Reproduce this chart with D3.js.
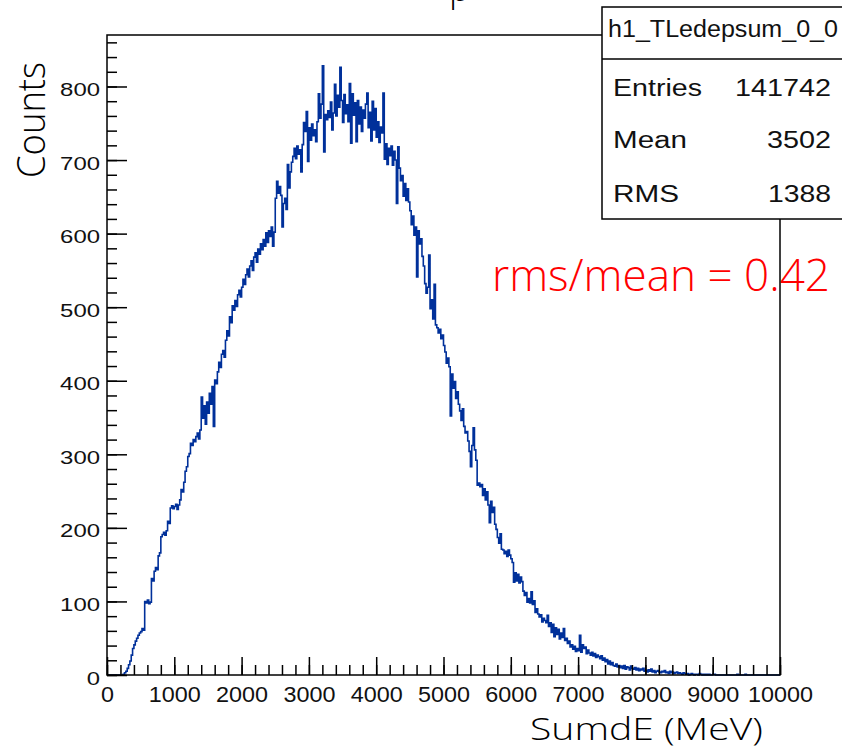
<!DOCTYPE html>
<html>
<head>
<meta charset="utf-8">
<script src="https://cdn.jsdelivr.net/npm/d3@7"></script>
<style>
html,body{margin:0;padding:0;background:#fff;}
svg{display:block;}
</style>
</head>
<body>
<svg id="chart" width="842" height="750"></svg>
<script>
// ---------------- data ----------------
const histName = "h1_TLedepsum_0_0";
const titleFragment = "p";
const xRange = [0, 10000];
const yMax = 870;
const xTitle = "SumdE (MeV)";
const yTitle = "Counts";
const noteText = "rms/mean = 0.42";
const statLabels = ["Entries", "Mean", "RMS"];
const statValues = ["141742", "3502", "1388"];
const xTicks = [0, 1000, 2000, 3000, 4000, 5000, 6000, 7000, 8000, 9000, 10000];
const yTicks = [0, 100, 200, 300, 400, 500, 600, 700, 800];
// 500 bins of 20 MeV
const counts = [
  0,0,0,0,0,0,0,0,0,0,0,0,1,3,5,9,14,19,27,36,41,46,50,54,57,
  59,63,61,100,98,102,97,99,131,128,141,146,143,162,166,188,191,194,190,196,209,206,227,230,226,
  229,232,225,231,238,252,249,262,277,283,297,301,315,312,320,317,324,329,321,333,378,349,366,341,371,
  356,383,368,392,338,401,396,412,425,418,436,441,432,455,468,461,487,479,502,496,509,501,517,523,514,
  527,538,531,544,552,541,556,563,550,568,574,561,579,572,586,578,592,583,601,588,604,596,609,583,602,
  648,671,655,664,652,609,641,648,633,694,662,684,697,705,716,702,719,708,714,684,721,751,739,766,698,
  744,727,749,733,741,725,752,790,757,776,828,711,762,755,767,758,779,741,764,803,760,788,772,826,781,
  751,789,763,775,752,804,723,790,761,778,725,781,749,772,739,768,757,776,791,744,765,726,780,741,770,
  731,752,724,745,737,791,701,722,694,716,706,719,693,712,700,641,718,689,672,679,651,668,645,661,643,
  631,612,624,598,609,541,604,586,593,569,556,532,519,527,571,498,510,484,531,476,472,465,470,457,462,
  448,439,424,431,419,352,409,390,399,376,385,368,359,346,362,338,329,331,318,304,283,312,336,306,292,
  258,261,256,259,244,253,238,249,231,207,236,221,228,205,198,187,179,192,171,170,165,168,161,170,163,
  158,153,126,139,128,137,125,133,127,114,108,112,99,104,98,113,96,101,85,90,83,79,82,72,77,
  74,71,81,66,71,58,69,52,64,55,62,49,57,51,63,47,50,43,46,38,41,35,39,32,36,
  33,54,31,41,36,38,29,34,30,27,31,26,29,24,27,25,22,26,20,23,18,21,15,19,14,
  17,13,12,15,11,13,10,12,9,13,8,11,10,7,12,9,8,10,7,9,6,8,7,9,5,
  6,4,7,5,8,4,6,3,5,6,4,3,5,4,6,3,4,2,5,3,4,2,3,4,2,
  3,2,1,3,2,1,2,0,1,2,1,0,1,1,0,2,1,0,1,0,1,0,1,0,0,
  1,1,0,0,0,0,0,0,0,0,0,0,0,0,0,0,0,0,1,0,0,0,0,0,1,
  0,0,0,0,0,0,0,0,0,0,0,0,0,0,0,0,0,0,0,0,0,0,0,0,0
];

// ---------------- drawing ----------------
const svg = d3.select("#chart");
const ROOTFONT = "'Liberation Sans', Arial, Helvetica, sans-serif";
const LABFONT = "'Open Sans', 'Noto Sans', sans-serif";
const frame = {left: 107, right: 780, top: 35, bottom: 675};

const x = d3.scaleLinear().domain(xRange).range([frame.left, frame.right]);
const y = d3.scaleLinear().domain([0, yMax]).range([frame.bottom, frame.top]);

// partially visible title
svg.append("text").attr("x", 449).attr("y", 1)
  .attr("font-family", LABFONT).attr("font-weight", 300).attr("font-size", 36).attr("fill", "#000")
  .text(titleFragment);

function styleAxis(g) {
  g.select(".domain").remove();
  g.selectAll(".tick line").attr("stroke", "#000").attr("stroke-width", 1.5);
}

// histogram
const bw = (xRange[1] - xRange[0]) / counts.length;
const pts = counts.flatMap((c, i) => [[xRange[0] + i * bw, c], [xRange[0] + (i + 1) * bw, c]]);
const line = d3.line().x(d => x(d[0])).y(d => y(d[1]));
svg.append("path").datum(pts).attr("d", line)
  .attr("fill", "none").attr("stroke", "#00309a").attr("stroke-width", 1.6)
  .attr("stroke-linejoin", "miter");

// frame
svg.append("rect")
  .attr("x", frame.left).attr("y", frame.top)
  .attr("width", frame.right - frame.left).attr("height", frame.bottom - frame.top)
  .attr("fill", "none").attr("stroke", "#000").attr("stroke-width", 1.5);

// y minor ticks
svg.append("g").attr("transform", `translate(${frame.left},0)`)
  .call(d3.axisLeft(y).tickValues(d3.range(0, yMax, 20)).tickSize(-10).tickFormat(""))
  .call(styleAxis);
// y major ticks
const yAx = svg.append("g").attr("transform", `translate(${frame.left},0)`)
  .call(d3.axisLeft(y).tickValues(yTicks).tickSize(-20).tickPadding(7).tickFormat(d3.format("d")))
  .call(styleAxis);
yAx.selectAll(".tick text")
  .attr("dy", null).attr("y", 9)
  .attr("font-family", ROOTFONT).attr("font-size", 19).attr("fill", "#111")
  .each(function(d) {
    const s = String(d);
    d3.select(this).attr("textLength", s.length * 13.3).attr("lengthAdjust", "spacingAndGlyphs");
  });

// x minor ticks
svg.append("g").attr("transform", `translate(0,${frame.bottom})`)
  .call(d3.axisBottom(x).tickValues(d3.range(xRange[0], xRange[1] + 1, 200)).tickSize(-10).tickFormat(""))
  .call(styleAxis);
// x major ticks
const xAx = svg.append("g").attr("transform", `translate(0,${frame.bottom})`)
  .call(d3.axisBottom(x).tickValues(xTicks).tickSize(-18).tickFormat(d3.format("d")))
  .call(styleAxis);
xAx.selectAll(".tick text")
  .attr("dy", null).attr("y", 27)
  .attr("font-family", ROOTFONT).attr("font-size", 22).attr("fill", "#111")
  .each(function(d) {
    const s = String(d);
    d3.select(this).attr("textLength", s.length * 13).attr("lengthAdjust", "spacingAndGlyphs");
  });

// axis titles
svg.append("text").attr("x", 763).attr("y", 740)
  .attr("text-anchor", "end").attr("font-family", LABFONT).attr("font-weight", 300).attr("font-size", 31)
  .attr("fill", "#000").attr("textLength", 233).attr("lengthAdjust", "spacingAndGlyphs")
  .text(xTitle);
svg.append("text").attr("transform", "translate(45,62) rotate(-90)")
  .attr("text-anchor", "end").attr("font-family", LABFONT).attr("font-weight", 300).attr("font-size", 38)
  .attr("fill", "#000").attr("textLength", 116).attr("lengthAdjust", "spacingAndGlyphs")
  .text(yTitle);

// note
svg.append("text").attr("x", 492).attr("y", 291)
  .attr("font-family", LABFONT).attr("font-weight", 300).attr("font-size", 45).attr("fill", "#ff0000")
  .attr("textLength", 338).attr("lengthAdjust", "spacingAndGlyphs")
  .text(noteText);

// stats box
const box = {left: 602, top: 7, right: 845, sep: 59, bottom: 219};
svg.append("rect").attr("x", box.left).attr("y", box.top)
  .attr("width", box.right - box.left).attr("height", box.bottom - box.top)
  .attr("fill", "#fff").attr("stroke", "#000").attr("stroke-width", 1.5);
svg.append("line").attr("x1", box.left).attr("x2", box.right)
  .attr("y1", box.sep).attr("y2", box.sep).attr("stroke", "#000").attr("stroke-width", 1.5);
svg.append("text").attr("x", 723).attr("y", 37).attr("text-anchor", "middle")
  .attr("font-family", ROOTFONT).attr("font-size", 23).attr("fill", "#111")
  .attr("textLength", 230).attr("lengthAdjust", "spacingAndGlyphs")
  .text(histName);
const rowBase = [96, 148, 202];
const labLen = [89, 74, 66];
const valLen = [96, 64, 63];
statLabels.forEach((lab, i) => {
  svg.append("text").attr("x", 613).attr("y", rowBase[i])
    .attr("font-family", ROOTFONT).attr("font-size", 23).attr("fill", "#111")
    .attr("textLength", labLen[i]).attr("lengthAdjust", "spacingAndGlyphs")
    .text(lab);
  svg.append("text").attr("x", 831).attr("y", rowBase[i]).attr("text-anchor", "end")
    .attr("font-family", ROOTFONT).attr("font-size", 23).attr("fill", "#111")
    .attr("textLength", valLen[i]).attr("lengthAdjust", "spacingAndGlyphs")
    .text(statValues[i]);
});
</script>
</body>
</html>
